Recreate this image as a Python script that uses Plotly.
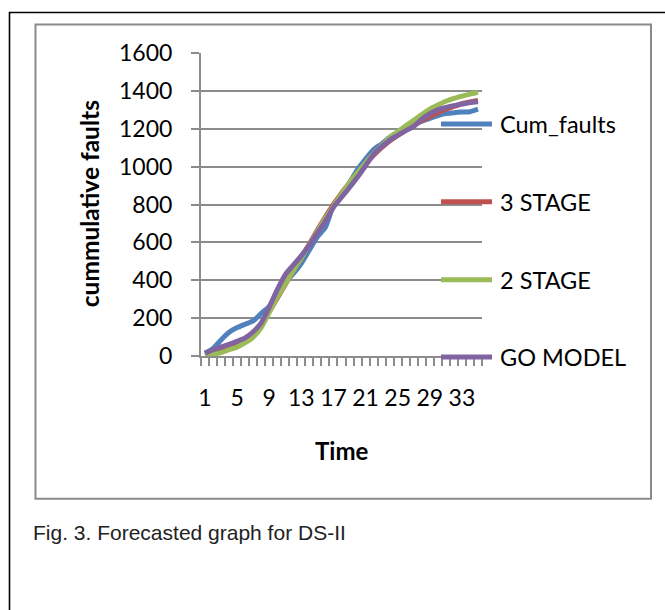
import plotly.graph_objects as go

# ---------------- data ----------------
time = list(range(1, 36))
cum_faults = [15, 40, 85, 125, 150, 168, 185, 225, 262, 330, 390, 435, 490, 560, 630, 680,
              795, 850, 915, 985, 1040, 1090, 1120, 1155, 1180, 1200, 1222, 1240, 1255, 1270,
              1280, 1285, 1288, 1290, 1303]
stage3 = [5, 12, 25, 40, 58, 82, 115, 165, 235, 305, 378, 450, 522, 592, 665, 735,
          800, 860, 915, 965, 1015, 1060, 1100, 1135, 1165, 1192, 1218, 1242, 1265, 1285,
          1303, 1318, 1332, 1342, 1350]
stage2 = [2, 8, 18, 33, 47, 70, 100, 150, 230, 310, 380, 450, 518, 588, 658, 728,
          792, 855, 915, 968, 1020, 1068, 1110, 1155, 1185, 1215, 1245, 1275, 1303, 1325,
          1345, 1360, 1372, 1383, 1393]
go_model = [15, 33, 48, 62, 78, 96, 128, 175, 258, 350, 430, 480, 530, 585, 650, 712,
            785, 838, 890, 945, 1005, 1065, 1105, 1140, 1165, 1190, 1212, 1250, 1280, 1300,
            1313, 1322, 1330, 1338, 1343]
series_names = ["Cum_faults", "3 STAGE", "2 STAGE", "GO MODEL"]
series_values = [cum_faults, stage3, stage2, go_model]
colors = ["#4F81BD", "#C0504D", "#9BBB59", "#8064A2"]
x_tick_labels = [1, 5, 9, 13, 17, 21, 25, 29, 33]
y_ticks = list(range(0, 1601, 200))

# ---------------- layout geometry (pixels) ----------------
W, H = 665, 610
PL, PR, PT, PB = 201, 482, 53, 356.5   # plot area edges


def px(x):
    return (x - PL) / (PR - PL)


def py(y):
    return (PB - y) / (PB - PT)


FONT = "Lato, 'Open Sans', sans-serif"
GRID = "#8c8c8c"

fig = go.Figure()
for name, vals, col in zip(series_names, series_values, colors):
    fig.add_trace(go.Scatter(
        x=time, y=vals, name=name, mode="lines",
        line=dict(color=col, width=5, shape="spline", smoothing=0.6),
        showlegend=False,
    ))

shapes = []
annotations = []
# manual legend (right side)
leg_y = [124, 202, 280, 357.5]
for name, col, ly in zip(series_names, colors, leg_y):
    shapes.append(dict(type="line", xref="paper", yref="paper",
                       x0=px(441), x1=px(492), y0=py(ly), y1=py(ly),
                       line=dict(color=col, width=5), layer="above"))
    annotations.append(dict(text=name, xref="paper", yref="paper",
                            x=px(498), y=py(ly), xanchor="left", yanchor="middle",
                            showarrow=False, font=dict(family=FONT, size=23.5, color="#000")))

# outer black frame and inner gray chart border
shapes.append(dict(type="rect", xref="paper", yref="paper",
                   x0=px(9.5), x1=px(680), y0=py(12.5), y1=py(630),
                   line=dict(color="#000", width=1.6), layer="below"))
shapes.append(dict(type="rect", xref="paper", yref="paper",
                   x0=px(35.5), x1=px(651), y0=py(24.5), y1=py(499.5),
                   line=dict(color="#8a8a8a", width=2), layer="below"))

# axis titles and caption
annotations.append(dict(text="<b>cummulative faults</b>", xref="paper", yref="paper",
                        x=px(89.5), y=py(204), textangle=-90, showarrow=False,
                        xanchor="center", yanchor="middle",
                        font=dict(family=FONT, size=24.5, color="#000")))
annotations.append(dict(text="<b>Time</b>", xref="paper", yref="paper",
                        x=px(341.5), y=py(451.5), showarrow=False,
                        xanchor="center", yanchor="middle",
                        font=dict(family=FONT, size=24, color="#000")))
annotations.append(dict(text="Fig. 3. Forecasted graph for DS-II", xref="paper", yref="paper",
                        x=px(30.5), y=py(533.5), showarrow=False,
                        xanchor="left", yanchor="middle",
                        font=dict(family="Liberation Sans, Arial, sans-serif", size=21,
                                  color="#222")))

fig.update_layout(
    width=W, height=H,
    margin=dict(l=PL, r=W - PR, t=PT, b=H - PB, pad=0),
    paper_bgcolor="white", plot_bgcolor="white",
    shapes=shapes, annotations=annotations,
    showlegend=False,
    font=dict(family=FONT, size=23, color="#000"),
)
fig.update_xaxes(
    range=[0.5, 35.5], tickmode="array", tickvals=x_tick_labels,
    ticktext=[str(v) for v in x_tick_labels],
    ticks="", showgrid=False, zeroline=False,
    showline=True, linecolor=GRID, linewidth=2,
    ticklabelstandoff=20,
    minor=dict(tickmode="linear", tick0=0.5, dtick=1, ticks="outside",
               ticklen=8, tickwidth=1.5, tickcolor=GRID, showgrid=False),
    tickfont=dict(family=FONT, size=23, color="#000"),
)
fig.update_yaxes(
    range=[0, 1600], tickmode="array", tickvals=y_ticks,
    showgrid=True, gridcolor=GRID, gridwidth=2, zeroline=False,
    showline=True, linecolor=GRID, linewidth=2,
    ticks="outside", ticklen=8, tickwidth=1.5, tickcolor=GRID,
    ticklabelstandoff=14,
    tickfont=dict(family=FONT, size=23, color="#000"),
)

fig.write_html("out.html")
